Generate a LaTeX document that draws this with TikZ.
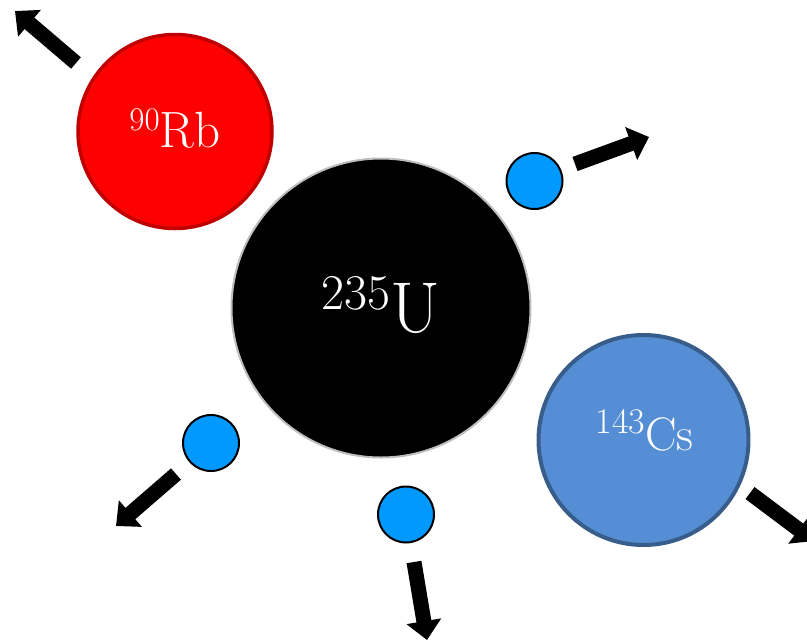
\documentclass[tikz,border=0pt]{standalone}
\usetikzlibrary{arrows.meta}
\definecolor{rbfill}{RGB}{255,0,0}
\definecolor{rbdraw}{RGB}{192,0,0}
\definecolor{csfill}{RGB}{85,142,213}
\definecolor{csdraw}{RGB}{56,93,138}
\definecolor{nfill}{RGB}{0,153,255}
\definecolor{udraw}{RGB}{190,190,190}
\newcommand{\nuc}[5]{{\fontsize{#3}{#3}\selectfont\raisebox{#5pt}{#1}}{\fontsize{#4}{#4}\selectfont #2}}
\begin{document}
\begin{tikzpicture}[x=1pt,y=-1pt,
  ball/.style={circle,inner sep=0pt,outer sep=0pt},
  neutron/.style={ball,minimum size=56pt,fill=nfill,draw=black,line width=2pt},
  lbl/.style={anchor=base,text=white,inner sep=0pt},
  blockarrow/.style={line width=15pt,-{Triangle[width=34pt,length=19pt]},black}]
\useasboundingbox (0,0) rectangle (807,641);
\clip (0,0) rectangle (807,641);
\node[ball,minimum size=194pt,fill=rbfill,draw=rbdraw,line width=3.5pt] (rb) at (175,131.5) {};
\node[ball,minimum size=299pt,fill=black,draw=udraw,line width=2pt] (u) at (381,308) {};
\node[ball,minimum size=210pt,fill=csfill,draw=csdraw,line width=4pt] (cs) at (643.5,440) {};
\node[neutron] (n1) at (534.5,181) {};
\node[neutron] (n2) at (211,443) {};
\node[neutron] (n3) at (406,514.5) {};
\node[lbl] (rbt) at (175,147) {\nuc{90}{Rb}{33}{51}{17}};
\node[lbl] (ut) at (381,332) {\nuc{235}{U}{50}{72}{23}};
\node[lbl] (cst) at (644.5,450) {\nuc{143}{Cs}{36}{47}{17}};
\coordinate (a1s) at (76,63);   \coordinate (a1e) at (15,11);
\coordinate (a2s) at (575,164); \coordinate (a2e) at (649,137);
\coordinate (a3s) at (176,474); \coordinate (a3e) at (116,526);
\coordinate (a4s) at (414,562); \coordinate (a4e) at (427,640);
\coordinate (a5s) at (750,493); \coordinate (a5e) at (814,541);
\draw[blockarrow] (a1s) -- (a1e);
\draw[blockarrow] (a2s) -- (a2e);
\draw[blockarrow] (a3s) -- (a3e);
\draw[blockarrow] (a4s) -- (a4e);
\draw[blockarrow] (a5s) -- (a5e);
\end{tikzpicture}
\end{document}
